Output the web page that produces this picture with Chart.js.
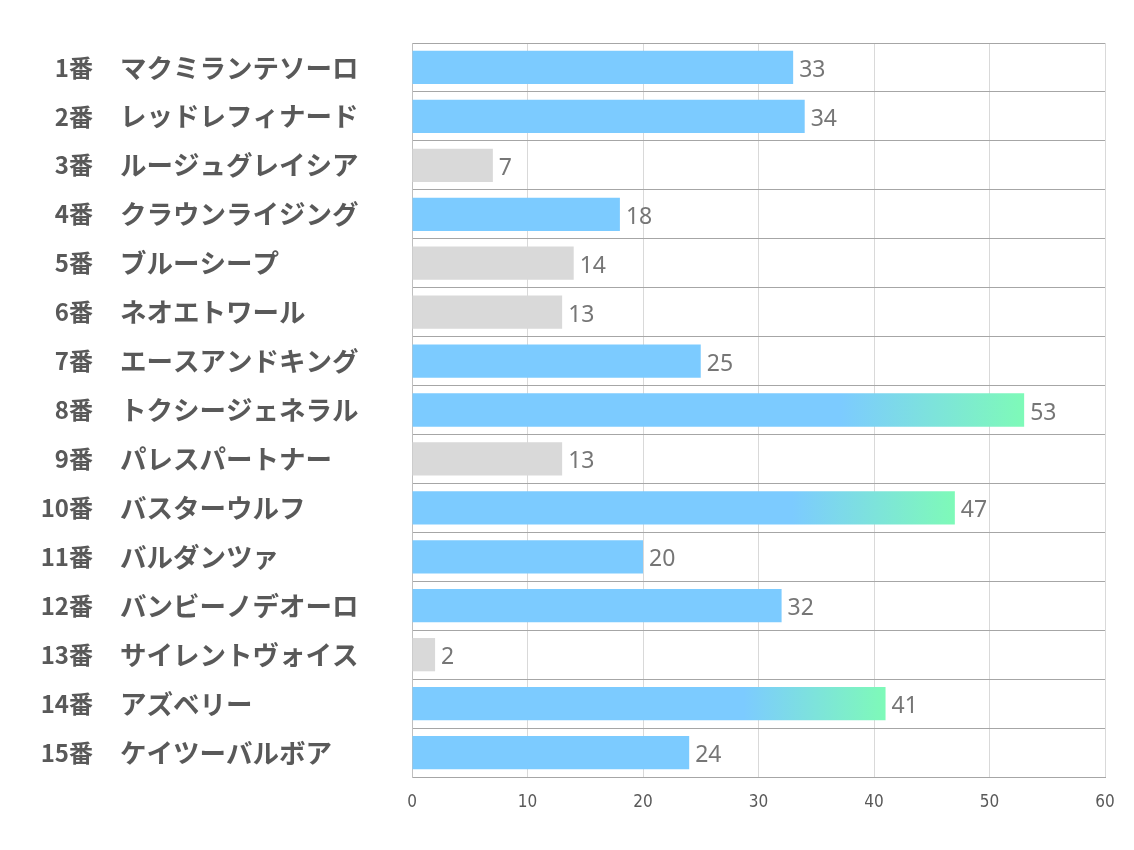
<!DOCTYPE html>
<html>
<head>
<meta charset="utf-8">
<script src="https://cdn.jsdelivr.net/npm/chart.js@4"></script>
<style>
  html, body { margin: 0; padding: 0; background: #fff; }
  #wrap { width: 1134px; height: 850px; }
</style>
</head>
<body>
<div id="wrap"><canvas id="odds"></canvas></div>
<script>
// 馬番・馬名・値
const numbers = ["1番","2番","3番","4番","5番","6番","7番","8番","9番","10番","11番","12番","13番","14番","15番"];
const horses = ["マクミランテソーロ","レッドレフィナード","ルージュグレイシア","クラウンライジング","ブルーシープ","ネオエトワール","エースアンドキング","トクシージェネラル","パレスパートナー","バスターウルフ","バルダンツァ","バンビーノデオーロ","サイレントヴォイス","アズベリー","ケイツーバルボア"];
const values = [33, 34, 7, 18, 14, 13, 25, 53, 13, 47, 20, 32, 2, 41, 24];
// 0 = グレー表示
const active = [1, 1, 0, 1, 0, 0, 1, 1, 0, 1, 1, 1, 0, 1, 1];
const xTicks = [0, 10, 20, 30, 40, 50, 60];

const BLUE = "rgb(124, 203, 255)";
const GREEN = "rgb(126, 250, 184)";
const GRAY = "rgb(217, 217, 217)";

function barColor(ctx) {
    const i = ctx.dataIndex;
    if (!active[i]) return GRAY;
    const v = values[i];
    const chart = ctx.chart;
    if (v < 40 || !chart.chartArea) return BLUE;
    const x = chart.scales.x;
    const x0 = x.getPixelForValue(0);
    const x1 = x.getPixelForValue(v);
    const g = chart.ctx.createLinearGradient(x0, 0, x1, 0);
    g.addColorStop(0, BLUE);
    g.addColorStop(0.7, BLUE);
    g.addColorStop(1, GREEN);
    return g;
}

const valueLabels = {
    id: "valueLabels",
    afterDatasetsDraw(chart) {
        const c = chart.ctx;
        const meta = chart.getDatasetMeta(0);
        c.save();
        c.font = "23px 'Noto Sans'";
        c.fillStyle = "#767676";
        c.textAlign = "left";
        c.textBaseline = "middle";
        meta.data.forEach((bar, i) => {
            c.fillText(values[i], bar.x + 6, bar.y + 3);
        });
        c.restore();
    }
};

new Chart(document.getElementById("odds"), {
    type: "bar",
    data: {
        labels: horses,
        datasets: [{
            data: values,
            backgroundColor: barColor,
            borderWidth: 0,
            categoryPercentage: 1,
            barPercentage: 0.68
        }]
    },
    options: {
        indexAxis: "y",
        responsive: true,
        maintainAspectRatio: false,
        animation: false,
        layout: { padding: { top: 43, right: 29, left: 0, bottom: 0 } },
        plugins: {
            legend: { display: false },
            tooltip: { enabled: false }
        },
        scales: {
            x: {
                min: 0,
                max: 60,
                afterBuildTicks: (s) => { s.ticks = xTicks.map(v => ({ value: v })); },
                afterFit: (s) => { s.height = 73; },
                grid: { color: "#d9d9d9", drawTicks: false },
                border: { color: "#a6a6a6" },
                ticks: {
                    padding: 15,
                    color: "#595959",
                    font: { family: "'DejaVu Sans Condensed', 'Noto Sans'", size: 17 }
                }
            },
            y: {
                weight: 0,
                afterFit: (s) => { s.width = 292; },
                grid: { color: "#a6a6a6", drawTicks: false, offset: true },
                border: { color: "#bfbfbf" },
                ticks: {
                    crossAlign: "far",
                    color: "#595959",
                    font: { family: "'Noto Sans CJK JP'", size: 26.5, weight: "bold" }
                }
            },
            y2: {
                type: "category",
                position: "left",
                weight: 1,
                labels: numbers,
                afterFit: (s) => { s.width = 120; },
                grid: { display: false, drawTicks: false },
                border: { display: false },
                ticks: {
                    crossAlign: "near",
                    padding: 27,
                    color: "#595959",
                    font: { family: "'Noto Sans CJK JP'", size: 24, weight: "bold" }
                }
            }
        }
    },
    plugins: [valueLabels]
});
</script>
</body>
</html>
